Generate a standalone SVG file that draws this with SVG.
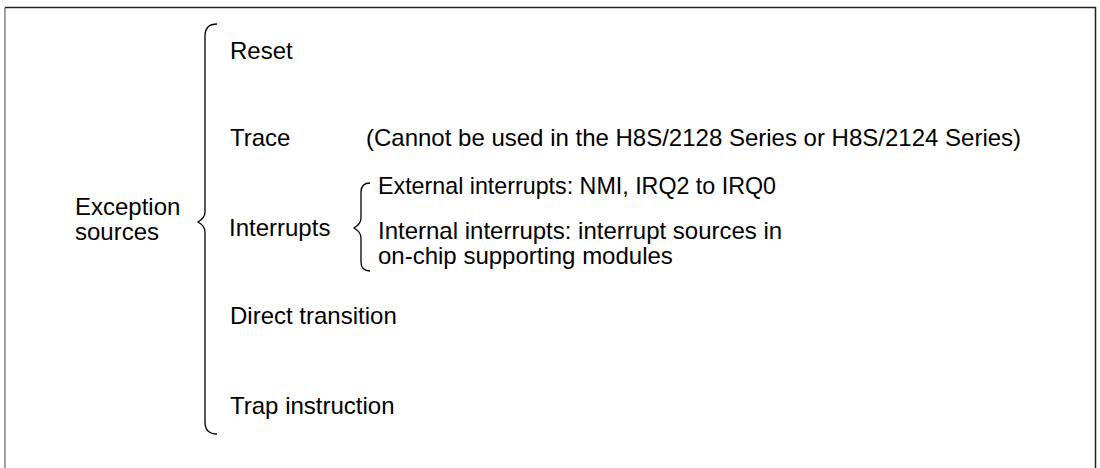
<svg xmlns="http://www.w3.org/2000/svg" width="1100" height="468" viewBox="0 0 1100 468">
<style>
text{font-family:"Liberation Sans",Arial,sans-serif;font-size:24px;fill:#000}
.br{fill:none;stroke:#000;stroke-width:1.3}
</style>
<rect width="1100" height="468" fill="#fff"/>
<g id="frame">
<path d="M5,468 V7.5" fill="none" stroke="#808080" stroke-width="1.5"/>
<path d="M5,7.5 H1095.5 V468" fill="none" stroke="#222" stroke-width="1.5"/>
</g>
<g id="connectors">
<path class="br" d="M217,24 Q205,24 205,36 V212 Q205,218 198,222 Q205,226 205,232 V422 Q205,434 217,434"/>
<path class="br" d="M370,183 Q361,183 361,192 V218 Q361,224 354,228 Q361,232 361,238 V262 Q361,271 370,271"/>
</g>
<g id="exception"><text x="75" y="215">Exception</text><text x="75" y="240">sources</text></g>
<g id="reset"><text x="230" y="58.5">Reset</text></g>
<g id="trace"><text x="230" y="145.5">Trace</text><text x="366" y="145.5">(Cannot be used in the H8S/2128 Series or H8S/2124 Series)</text></g>
<g id="interrupts"><text x="229" y="235.5">Interrupts</text></g>
<g id="external"><text x="378" y="193.5" textLength="398" lengthAdjust="spacingAndGlyphs">External interrupts: NMI, IRQ2 to IRQ0</text></g>
<g id="internal"><text x="378" y="239">Internal interrupts: interrupt sources in</text><text x="378" y="264">on-chip supporting modules</text></g>
<g id="direct"><text x="230" y="323.5">Direct transition</text></g>
<g id="trap"><text x="230" y="413.5">Trap instruction</text></g>
</svg>
